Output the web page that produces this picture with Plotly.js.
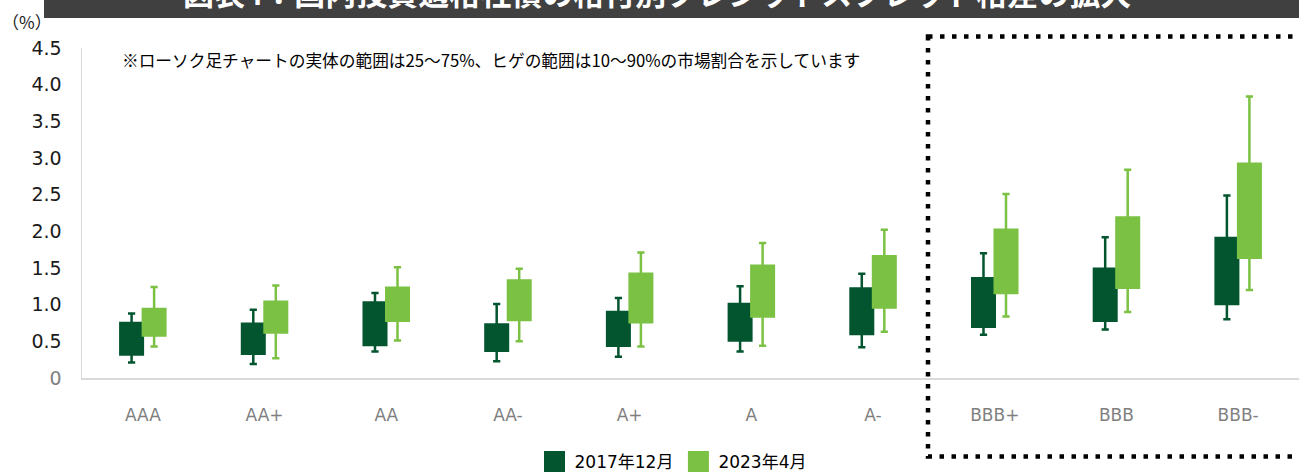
<!DOCTYPE html>
<html>
<head>
<meta charset="utf-8">
<script src="https://cdn.plot.ly/plotly-3.0.1.min.js"></script>
<style>html,body{margin:0;padding:0;background:#fff;}#chart{width:1299px;height:475px;}</style>
</head>
<body>
<div id="chart"></div>
<script>
// ---- data ----
const categories = ['AAA','AA+','AA','AA-','A+','A','A-','BBB+','BBB','BBB-'];
const seriesNames = ['2017年12月','2023年4月'];
// 2017年12月 : 10% / 25% / 75% / 90% market share points (%)
const dec2017_p10 = [0.21,0.19,0.36,0.23,0.29,0.36,0.42,0.59,0.66,0.80];
const dec2017_p25 = [0.32,0.33,0.45,0.37,0.44,0.51,0.60,0.70,0.78,1.01];
const dec2017_p75 = [0.75,0.74,1.03,0.73,0.90,1.01,1.22,1.36,1.49,1.91];
const dec2017_p90 = [0.88,0.93,1.16,1.01,1.09,1.25,1.42,1.70,1.92,2.49];
// 2023年4月
const apr2023_p10 = [0.43,0.27,0.51,0.50,0.43,0.44,0.63,0.84,0.90,1.20];
const apr2023_p25 = [0.58,0.62,0.78,0.79,0.76,0.84,0.96,1.16,1.23,1.64];
const apr2023_p75 = [0.94,1.04,1.23,1.33,1.42,1.53,1.66,2.02,2.19,2.92];
const apr2023_p90 = [1.24,1.26,1.51,1.49,1.71,1.84,2.02,2.51,2.84,3.84];
// y tick labels
const yTickVals = [0,0.5,1,1.5,2,2.5,3,3.5,4,4.5];
const yTickText = ['<span style="color:#7f7f7f">0</span>','0.5','1.0','1.5','2.0','2.5','3.0','3.5','4.0','4.5'];
const titleText = '図表4：国内投資適格社債の格付別クレジットスプレッド格差の拡大';
const noteText = '※ローソク足チャートの実体の範囲は25～75%、ヒゲの範囲は10～90%の市場割合を示しています';
const unitText = '（%）';

// ---- style ----
const DARK = '#02552f', LIGHT = '#7bc143';
const W = 1299, H = 475, L = 82, R = 1299, T = 48, B = 378;
const px = x => (x - L) / (R - L);
const py = y => (B - y) / (B - T);
const FONT = 'DejaVu Sans, Noto Sans CJK JP, sans-serif';
const JFONT = 'Noto Sans CJK JP, sans-serif';

function boxTrace(name, color, lo, q1, q3, hi) {
  return {
    type: 'box', name: name, x: categories,
    lowerfence: lo, q1: q1, median: q1, q3: q3, upperfence: hi,
    boxpoints: false, fillcolor: color,
    line: {color: color, width: 2.5},
    whiskerwidth: 0.32, showlegend: false, hoverinfo: 'skip'
  };
}
function legendTrace(name, color) {
  return {
    type: 'scatter', mode: 'markers', name: name, x: [null], y: [null],
    marker: {symbol: 'square', size: 16, color: color, line: {color: color, width: 5}},
    showlegend: true, hoverinfo: 'skip'
  };
}

const data = [
  boxTrace(seriesNames[0], DARK, dec2017_p10, dec2017_p25, dec2017_p75, dec2017_p90),
  boxTrace(seriesNames[1], LIGHT, apr2023_p10, apr2023_p25, apr2023_p75, apr2023_p90),
  legendTrace(seriesNames[0], DARK),
  legendTrace(seriesNames[1], LIGHT)
];

const layout = {
  width: W, height: H,
  margin: {l: L, r: W - R, t: T, b: H - B, pad: 0, autoexpand: false},
  paper_bgcolor: '#ffffff', plot_bgcolor: '#ffffff',
  font: {family: FONT, color: '#000'},
  boxmode: 'group', boxgap: 0.63, boxgroupgap: 0,
  showlegend: true,
  legend: {orientation: 'h', x: px(673), xanchor: 'center', y: py(462), yanchor: 'middle',
           font: {family: FONT, size: 17, color: '#000'}, itemwidth: 30, bgcolor: 'rgba(0,0,0,0)'},
  xaxis: {type: 'category', categoryorder: 'array', categoryarray: categories,
          range: [-0.5, categories.length - 0.5], fixedrange: true, automargin: false,
          showline: true, linecolor: '#d9d9d9', linewidth: 2, showgrid: false, zeroline: false,
          ticks: 'outside', ticklen: 21, tickcolor: 'rgba(0,0,0,0)',
          tickfont: {family: FONT, size: 17, color: '#7f7f7f'}},
  yaxis: {range: [0, 4.5], tickmode: 'array', tickvals: yTickVals, ticktext: yTickText,
          showline: true, linecolor: '#d9d9d9', linewidth: 1.5, showgrid: false, zeroline: false,
          ticks: 'outside', ticklen: 15, tickcolor: 'rgba(0,0,0,0)', fixedrange: true, automargin: false,
          tickfont: {family: FONT, size: 19, color: '#1a1a1a'}},
  shapes: [
    {type: 'rect', xref: 'paper', yref: 'paper', x0: px(44), x1: px(1310), y0: py(18), y1: py(-30),
     fillcolor: '#404040', line: {width: 0}, layer: 'above'},
    {type: 'rect', xref: 'paper', yref: 'paper', x0: px(928), x1: px(1320), y0: py(36.5), y1: py(456.5),
     fillcolor: 'rgba(0,0,0,0)', line: {color: '#000', width: 4.5, dash: '4.5px,7.5px'}, layer: 'above'}
  ],
  annotations: [
    {xref: 'paper', yref: 'paper', x: px(657), y: py(-9), xanchor: 'center', yanchor: 'middle',
     text: '<b>' + titleText + '</b>', showarrow: false,
     font: {family: JFONT, size: 31, color: '#ffffff'}},
    {xref: 'paper', yref: 'paper', x: px(0), y: py(21), xanchor: 'left', yanchor: 'middle',
     text: unitText, showarrow: false, font: {family: JFONT, size: 17, color: '#1a1a1a'}},
    {xref: 'paper', yref: 'paper', x: px(120), y: py(60), xanchor: 'left', yanchor: 'middle',
     text: noteText, showarrow: false, font: {family: JFONT, size: 16.7, color: '#000'}}
  ]
};

Plotly.newPlot('chart', data, layout, {staticPlot: true, displayModeBar: false});
</script>
</body>
</html>
